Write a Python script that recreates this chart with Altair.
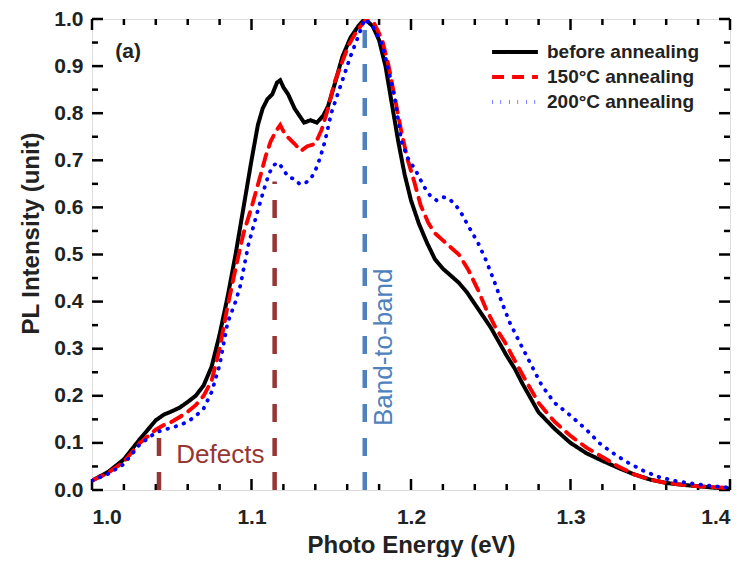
import altair as alt
import pandas as pd

# ---------------- data ----------------
series_names = ["before annealing", "150°C annealing", "200°C annealing"]

black_E = [1.000, 1.010, 1.020, 1.030, 1.040, 1.045, 1.050, 1.055, 1.060, 1.065, 1.070, 1.075,
           1.080, 1.085, 1.090, 1.095, 1.100, 1.104, 1.107, 1.110, 1.113, 1.116, 1.118, 1.120,
           1.123, 1.127, 1.130, 1.133, 1.137, 1.141, 1.145, 1.148, 1.152, 1.157, 1.162, 1.167,
           1.171, 1.176, 1.180, 1.184, 1.188, 1.192, 1.196, 1.200, 1.205, 1.210, 1.215, 1.220,
           1.225, 1.230, 1.235, 1.240, 1.245, 1.250, 1.255, 1.260, 1.265, 1.270, 1.275, 1.280,
           1.290, 1.300, 1.310, 1.320, 1.330, 1.340, 1.350, 1.360, 1.370, 1.380, 1.390, 1.400]
black_I = [0.020, 0.038, 0.065, 0.108, 0.148, 0.160, 0.167, 0.175, 0.187, 0.200, 0.222, 0.262,
           0.330, 0.410, 0.500, 0.600, 0.700, 0.775, 0.810, 0.830, 0.840, 0.865, 0.870, 0.855,
           0.840, 0.810, 0.795, 0.780, 0.785, 0.780, 0.795, 0.815, 0.860, 0.920, 0.960, 0.985,
           1.000, 0.985, 0.955, 0.900, 0.820, 0.740, 0.670, 0.615, 0.565, 0.525, 0.490, 0.470,
           0.455, 0.440, 0.420, 0.395, 0.370, 0.345, 0.315, 0.285, 0.258, 0.225, 0.195, 0.165,
           0.130, 0.100, 0.078, 0.062, 0.047, 0.033, 0.022, 0.015, 0.011, 0.008, 0.005, 0.003]

red_E = [1.000, 1.010, 1.020, 1.030, 1.040, 1.045, 1.050, 1.055, 1.060, 1.065, 1.070, 1.075,
         1.080, 1.085, 1.090, 1.095, 1.100, 1.105, 1.109, 1.112, 1.115, 1.118, 1.121, 1.124,
         1.127, 1.131, 1.135, 1.140, 1.144, 1.148, 1.152, 1.157, 1.161, 1.166, 1.172, 1.177,
         1.182, 1.186, 1.190, 1.194, 1.198, 1.202, 1.206, 1.211, 1.215, 1.220, 1.225, 1.230,
         1.236, 1.242, 1.247, 1.253, 1.259, 1.265, 1.272, 1.280, 1.290, 1.300, 1.310, 1.320,
         1.330, 1.340, 1.350, 1.360, 1.370, 1.380, 1.390, 1.400]
red_I = [0.020, 0.036, 0.060, 0.100, 0.128, 0.138, 0.145, 0.155, 0.166, 0.180, 0.200, 0.232,
         0.300, 0.390, 0.470, 0.545, 0.600, 0.660, 0.710, 0.740, 0.760, 0.775, 0.755, 0.745,
         0.735, 0.720, 0.730, 0.735, 0.765, 0.810, 0.865, 0.910, 0.945, 0.975, 1.000, 0.990,
         0.955, 0.900, 0.830, 0.760, 0.700, 0.655, 0.605, 0.566, 0.545, 0.530, 0.515, 0.500,
         0.467, 0.425, 0.385, 0.345, 0.313, 0.275, 0.232, 0.185, 0.145, 0.115, 0.090, 0.070,
         0.050, 0.033, 0.022, 0.015, 0.011, 0.008, 0.006, 0.004]

blue_E = [1.000, 1.010, 1.020, 1.030, 1.040, 1.045, 1.050, 1.055, 1.060, 1.065, 1.070, 1.075,
          1.080, 1.085, 1.090, 1.093, 1.098, 1.104, 1.108, 1.111, 1.114, 1.117, 1.120, 1.123,
          1.127, 1.130, 1.133, 1.137, 1.140, 1.143, 1.146, 1.150, 1.154, 1.158, 1.162, 1.166,
          1.171, 1.176, 1.182, 1.186, 1.190, 1.194, 1.198, 1.203, 1.208, 1.212, 1.216, 1.220,
          1.224, 1.228, 1.232, 1.236, 1.242, 1.247, 1.252, 1.257, 1.262, 1.268, 1.275, 1.282,
          1.290, 1.300, 1.310, 1.318, 1.325, 1.335, 1.345, 1.355, 1.366, 1.380, 1.390, 1.400]
blue_I = [0.020, 0.034, 0.055, 0.097, 0.122, 0.128, 0.132, 0.138, 0.145, 0.157, 0.173, 0.208,
          0.265, 0.355, 0.400, 0.434, 0.520, 0.594, 0.640, 0.672, 0.690, 0.695, 0.680, 0.665,
          0.660, 0.650, 0.650, 0.660, 0.678, 0.705, 0.740, 0.800, 0.840, 0.880, 0.920, 0.955,
          1.000, 0.985, 0.945, 0.890, 0.830, 0.740, 0.705, 0.678, 0.645, 0.625, 0.615, 0.622,
          0.618, 0.605, 0.585, 0.560, 0.525, 0.488, 0.445, 0.398, 0.355, 0.314, 0.268, 0.222,
          0.185, 0.158, 0.128, 0.100, 0.082, 0.060, 0.042, 0.028, 0.019, 0.012, 0.008, 0.005]

# marker lines (energy, top intensity)
defect_E = [1.042, 1.1145]
defect_top = [0.115, 0.655]
band_E = [1.171]
band_top = [0.99]

# text annotations
defects_label = ["Defects"]
defects_pos = [(1.0805, 0.075)]
band_label = ["Band-to-band"]
band_pos = [(1.183, 0.303)]
panel_label = ["(a)"]
panel_pos = [(1.0226, 0.93)]

# axis ticks
x_major = [1.0, 1.1, 1.2, 1.3, 1.4]
x_minor = [round(1.0 + 0.02 * i, 2) for i in range(21) if i % 5 != 0]
y_major = [round(0.1 * i, 1) for i in range(11)]
y_minor = [round(0.05 + 0.1 * i, 2) for i in range(10)]

# ---------------- build ----------------
W, H = 638, 471
FONT = "Liberation Sans"

rows = []
for name, es, vs in zip(series_names, [black_E, red_E, blue_E], [black_I, red_I, blue_I]):
    for e, v in zip(es, vs):
        rows.append({"E": e, "I": v, "series": name})
df = pd.DataFrame(rows)

xs = alt.Scale(domain=[1.0, 1.4], nice=False, zero=False)
ys = alt.Scale(domain=[0.0, 1.0], nice=False, zero=False)

x_axis = alt.Axis(values=x_major, format=".1f", ticks=False, domain=False, grid=False,
                  labelFont=FONT, labelFontWeight="bold", labelFontSize=21, labelPadding=16,
                  labelColor="#222222", title="Photo Energy (eV)", titleFont=FONT,
                  titleFontWeight="bold", titleFontSize=24, titlePadding=6, titleColor="#222222")
y_axis = alt.Axis(values=y_major, format=".1f", ticks=False, domain=False, grid=False,
                  labelFont=FONT, labelFontWeight="bold", labelFontSize=21, labelPadding=9,
                  labelColor="#222222", title="PL Intensity (unit)", titleFont=FONT,
                  titleFontWeight="bold", titleFontSize=24, titlePadding=10, titleColor="#222222",
                  titleY=214)

lines = alt.Chart(df).mark_line(strokeCap="round", clip=True).encode(
    x=alt.X("E:Q", scale=xs, axis=x_axis),
    y=alt.Y("I:Q", scale=ys, axis=y_axis),
    color=alt.Color("series:N", sort=series_names,
                    scale=alt.Scale(domain=series_names, range=["#000000", "#ff0000", "#0000ff"]),
                    legend=alt.Legend(title=None, orient="none", legendX=398, legendY=23,
                                      symbolType="stroke", symbolSize=2100, symbolStrokeWidth=4,
                                      clipHeight=20, labelFont=FONT, labelFontWeight="bold",
                                      labelFontSize=19, labelColor="#222222", rowPadding=5,
                                      labelOffset=7, padding=0)),
    strokeDash=alt.StrokeDash("series:N", sort=series_names,
                              scale=alt.Scale(domain=series_names, range=[[1, 0], [12, 8], [0.5, 8]]),
                              legend=None),
    strokeWidth=alt.StrokeWidth("series:N", sort=series_names,
                                scale=alt.Scale(domain=series_names, range=[4, 3.8, 4.5]),
                                legend=None),
    order=alt.Order("E:Q"),
)

df_def = pd.DataFrame({"E": defect_E, "y0": [0.0] * len(defect_E), "top": defect_top})
df_band = pd.DataFrame({"E": band_E, "y0": [0.0] * len(band_E), "top": band_top})

def_rules = alt.Chart(df_def).mark_rule(color="#953735", strokeWidth=4.5, strokeDash=[18, 16]).encode(
    x=alt.X("E:Q", scale=xs), y=alt.Y("y0:Q", scale=ys), y2="top:Q")
band_rules = alt.Chart(df_band).mark_rule(color="#4f81bd", strokeWidth=4.5, strokeDash=[18, 16]).encode(
    x=alt.X("E:Q", scale=xs), y=alt.Y("y0:Q", scale=ys), y2="top:Q")

def text_layer(labels, pos, **kw):
    d = pd.DataFrame({"t": labels, "E": [p[0] for p in pos], "I": [p[1] for p in pos]})
    return alt.Chart(d).mark_text(font=FONT, **kw).encode(
        x=alt.X("E:Q", scale=xs), y=alt.Y("I:Q", scale=ys), text="t:N")

t_def = text_layer(defects_label, defects_pos, fontSize=26, color="#953735",
                   align="center", baseline="middle")
t_band = text_layer(band_label, band_pos, fontSize=26, color="#4f81bd", angle=270,
                    align="center", baseline="middle")
t_panel = text_layer(panel_label, panel_pos, fontSize=21, fontWeight="bold", color="#222222",
                     align="center", baseline="middle")

# inward ticks on all four sides
def tick_rules(vals, axis, length):
    d = pd.DataFrame({"v": vals})
    base = alt.Chart(d).mark_rule(color="black", strokeWidth=2.5)
    if axis == "bottom":
        return base.encode(x=alt.X("v:Q", scale=xs), y=alt.value(H), y2=alt.value(H - length))
    if axis == "top":
        return base.encode(x=alt.X("v:Q", scale=xs), y=alt.value(0), y2=alt.value(length))
    if axis == "left":
        return base.encode(y=alt.Y("v:Q", scale=ys), x=alt.value(0), x2=alt.value(length))
    return base.encode(y=alt.Y("v:Q", scale=ys), x=alt.value(W), x2=alt.value(W - length))

ticks = []
for side in ["bottom", "top"]:
    ticks.append(tick_rules(x_major, side, 11))
    ticks.append(tick_rules(x_minor, side, 6))
for side in ["left", "right"]:
    ticks.append(tick_rules(y_major, side, 11))
    ticks.append(tick_rules(y_minor, side, 6))

chart = alt.layer(*ticks, def_rules, band_rules, lines, t_def, t_band, t_panel).properties(
    width=W, height=H,
    padding={"left": 11, "top": 0, "right": 5, "bottom": 0},
).configure_view(stroke="black", strokeWidth=3.5).configure(background="white")

chart.save("out.html", embed_options={"renderer": "svg", "actions": False})
